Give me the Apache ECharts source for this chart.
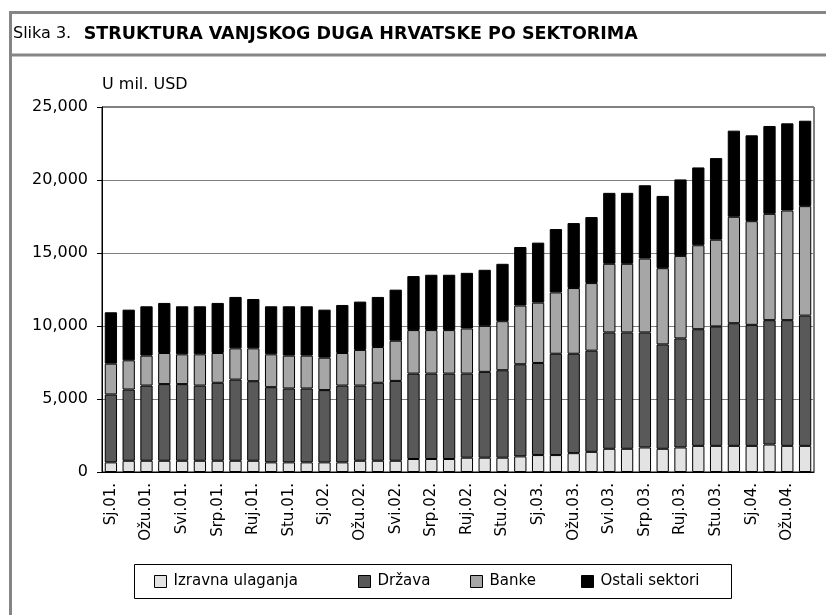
<!DOCTYPE html>
<html>
<head>
<meta charset="utf-8">
<script src="https://cdn.jsdelivr.net/npm/echarts@6/dist/echarts.min.js"></script>
<style>
	html, body { margin: 0; padding: 0; background: #fff; }
	#chart { width: 826px; height: 615px; }
</style>
</head>
<body>
<div id="chart"></div>
<script>
// mjeseci, sj.2001 - tra.2004
const months = [
	'Sj.01.', 'Velj.01.', 'Ožu.01.', 'Tra.01.', 'Svi.01.', 'Lip.01.', 'Srp.01.', 'Kol.01.', 'Ruj.01.', 'Lis.01.', 'Stu.01.', 'Pro.01.',
	'Sj.02.', 'Velj.02.', 'Ožu.02.', 'Tra.02.', 'Svi.02.', 'Lip.02.', 'Srp.02.', 'Kol.02.', 'Ruj.02.', 'Lis.02.', 'Stu.02.', 'Pro.02.',
	'Sj.03.', 'Velj.03.', 'Ožu.03.', 'Tra.03.', 'Svi.03.', 'Lip.03.', 'Srp.03.', 'Kol.03.', 'Ruj.03.', 'Lis.03.', 'Stu.03.', 'Pro.03.',
	'Sj.04.', 'Velj.04.', 'Ožu.04.', 'Tra.04.'
]
const izravna = [660, 770, 770, 770, 770, 770, 770, 770, 770, 660, 660, 660, 660, 660, 770, 770, 770, 890, 890, 890, 980, 980, 980, 1070, 1160, 1160, 1290, 1380, 1590, 1590, 1680, 1590, 1680, 1790, 1790, 1790, 1790, 1880, 1790, 1790]
const drzava = [4650, 4880, 5150, 5250, 5250, 5150, 5340, 5560, 5450, 5150, 5060, 5060, 4950, 5260, 5150, 5340, 5470, 5850, 5850, 5850, 5760, 5880, 5990, 6310, 6310, 6940, 6810, 6930, 7970, 7970, 7880, 7150, 7470, 7990, 8180, 8400, 8290, 8520, 8610, 8920]
const banke = [2110, 2000, 2050, 2130, 2040, 2140, 2040, 2140, 2250, 2250, 2250, 2250, 2220, 2230, 2440, 2450, 2750, 2980, 2980, 2980, 3090, 3150, 3360, 4020, 4130, 4200, 4500, 4630, 4700, 4700, 5060, 5220, 5650, 5750, 5940, 7290, 7100, 7280, 7510, 7500]
const ostali = [3520, 3470, 3380, 3430, 3290, 3290, 3430, 3520, 3380, 3290, 3380, 3380, 3290, 3290, 3310, 3430, 3500, 3700, 3790, 3790, 3810, 3840, 3930, 4010, 4110, 4340, 4450, 4520, 4860, 4860, 5020, 4950, 5240, 5330, 5590, 5900, 5880, 6020, 5970, 5850]

const names = ['Izravna ulaganja', 'Država', 'Banke', 'Ostali sektori']
const colors = ['#e3e3e3', '#595959', '#a6a6a6', '#000000']
const values = [izravna, drzava, banke, ostali]
const legendLeft = [154, 358, 470, 581]

const font = 'DejaVu Sans'
const frame = '#858585'

echarts.init(document.getElementById('chart')).setOption({
	animation: false,
	backgroundColor: '#fff',
	textStyle: { fontFamily: font, color: '#000' },
	title: {
		left: 13,
		top: 25,
		padding: 0,
		text: '{a|Slika 3.}  {b|STRUKTURA VANJSKOG DUGA HRVATSKE PO SEKTORIMA}',
		textStyle: {
			rich: {
				a: { fontFamily: font, fontSize: 16, fontWeight: 'normal', color: '#000' },
				b: { fontFamily: font, fontSize: 17.5, fontWeight: 'bold', color: '#000' }
			}
		}
	},
	graphic: [
		{ type: 'line', shape: { x1: 9, y1: 12.5, x2: 826, y2: 12.5 }, style: { stroke: frame, lineWidth: 3 } },
		{ type: 'line', shape: { x1: 9, y1: 55, x2: 826, y2: 55 }, style: { stroke: frame, lineWidth: 3 } },
		{ type: 'line', shape: { x1: 10.5, y1: 11, x2: 10.5, y2: 615 }, style: { stroke: frame, lineWidth: 3 } },
		{ type: 'rect', shape: { x: 134.5, y: 564.5, width: 597, height: 34 }, style: { fill: null, stroke: '#000', lineWidth: 1 } }
	],
	legend: names.map((n, i) => ({
		data: [n],
		left: legendLeft[i],
		top: 574,
		padding: 0,
		itemWidth: 12,
		itemHeight: 12,
		icon: 'rect',
		itemStyle: { borderColor: '#000', borderWidth: 1 },
		textStyle: { fontFamily: font, fontSize: 15, color: '#000', padding: [0, 0, 0, 2] }
	})),
	grid: {
		left: 102,
		top: 107,
		right: 12,
		bottom: 143,
		show: true,
		borderColor: '#000',
		borderWidth: 1
	},
	xAxis: {
		type: 'category',
		data: months,
		axisLine: { lineStyle: { color: '#000', width: 1 } },
		axisTick: { interval: 0, length: 5, lineStyle: { color: '#000' } },
		axisLabel: { interval: 1, rotate: 90, margin: 11, fontSize: 15, fontFamily: font, color: '#000' }
	},
	yAxis: {
		type: 'value',
		min: 0,
		max: 25000,
		interval: 5000,
		name: 'U mil. USD',
		nameLocation: 'end',
		nameGap: 14,
		nameTextStyle: { align: 'left', fontSize: 16, fontFamily: font, color: '#000' },
		axisLine: { show: true, lineStyle: { color: '#000', width: 1 } },
		axisTick: { show: true, length: 5, lineStyle: { color: '#000' } },
		axisLabel: {
			margin: 14,
			fontSize: 16,
			fontFamily: font,
			color: '#000',
			formatter: v => v.toLocaleString('en-US')
		},
		splitLine: { lineStyle: { color: '#808080', width: 1 } }
	},
	series: names.map((n, i) => ({
		type: 'bar',
		name: n,
		stack: 'dug',
		barCategoryGap: '31%',
		itemStyle: { color: colors[i], borderColor: '#000', borderWidth: 1 },
		data: values[i]
	}))
})
</script>
</body>
</html>
